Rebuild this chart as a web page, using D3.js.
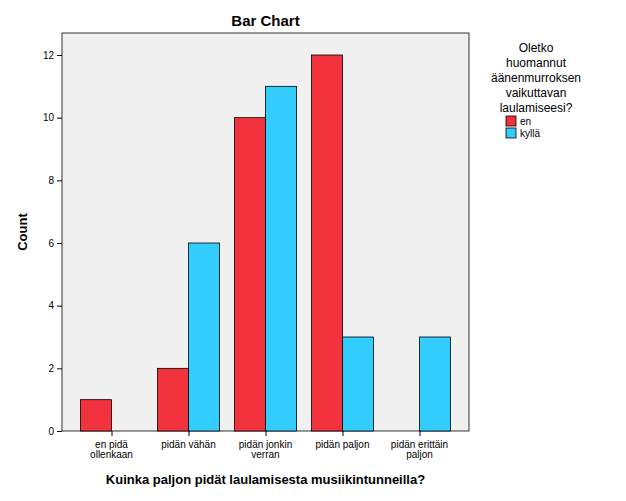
<!DOCTYPE html>
<html><head><meta charset="utf-8">
<script src="https://cdn.jsdelivr.net/npm/d3@7"></script>
<style>body{margin:0;background:#fff}text{font-family:Arial,"Liberation Sans",sans-serif}</style>
</head><body><svg id="c" width="626" height="501"></svg>
<script>
const categories = [["en pidä","ollenkaan"],["pidän vähän"],["pidän jonkin","verran"],["pidän paljon"],["pidän erittäin","paljon"]];
const enValues = [1, 2, 10, 12, 0];
const kyllaValues = [0, 6, 11, 3, 3];
const yTicks = [0, 2, 4, 6, 8, 10, 12];
const seriesNames = ["en", "kyllä"];
const colors = ["#f2323c", "#33ccff"];

const svg = d3.select("#c");
const L = 62, R = 469, T = 33, B = 431;
svg.append("rect").attr("x", L).attr("y", T).attr("width", R - L).attr("height", B - T)
  .attr("fill", "#f0f0f0").attr("stroke", "#000").attr("stroke-width", 0.8);

const x = d3.scalePoint().domain(d3.range(categories.length)).range([L, R]).padding(0.643);
const y = d3.scaleLinear().domain([0, 12]).range([B, 55]);
const bw = 31;

const yAxis = svg.append("g").attr("transform", `translate(${L},0)`)
  .call(d3.axisLeft(y).tickValues(yTicks).tickSize(5).tickSizeOuter(0));
yAxis.select(".domain").remove();
yAxis.selectAll("text").attr("font-size", 10).attr("fill", "#000");

const xAxis = svg.append("g").attr("transform", `translate(0,${B})`)
  .call(d3.axisBottom(x).tickSize(5).tickFormat(""));
xAxis.select(".domain").remove();
categories.forEach((lines, i) => {
  const t = svg.append("text").attr("x", x(i)).attr("y", B + 17).attr("text-anchor", "middle").attr("font-size", 10);
  lines.forEach((l, j) => t.append("tspan").attr("x", x(i)).attr("dy", j ? 10 : 0).text(l));
});

[enValues, kyllaValues].forEach((vals, s) => {
  svg.append("g").selectAll("rect").data(vals.map((v, i) => ({v, i})).filter(d => d.v > 0))
    .join("rect")
    .attr("x", d => x(d.i) - bw + s * bw).attr("width", bw)
    .attr("y", d => y(d.v)).attr("height", d => B - y(d.v))
    .attr("fill", colors[s]).attr("stroke", "#000").attr("stroke-width", 0.8);
});

svg.append("text").attr("x", (L + R) / 2).attr("y", 26).attr("text-anchor", "middle")
  .attr("font-size", 15).attr("font-weight", "bold").text("Bar Chart");
svg.append("text").attr("x", (L + R) / 2).attr("y", 484).attr("text-anchor", "middle")
  .attr("font-size", 13).attr("font-weight", "bold").text("Kuinka paljon pidät laulamisesta musiikintunneilla?");
svg.append("text").attr("transform", `translate(27,${(T + B) / 2}) rotate(-90)`).attr("text-anchor", "middle")
  .attr("font-size", 13).attr("font-weight", "bold").text("Count");

const legTitle = ["Oletko", "huomannut", "äänenmurroksen", "vaikuttavan", "laulamiseesi?"];
legTitle.forEach((l, j) => svg.append("text").attr("x", 536).attr("y", 52 + j * 15)
  .attr("text-anchor", "middle").attr("font-size", 12).text(l));
seriesNames.forEach((n, s) => {
  svg.append("rect").attr("x", 506).attr("y", 116 + s * 12).attr("width", 10).attr("height", 10)
    .attr("fill", colors[s]).attr("stroke", "#000").attr("stroke-width", 0.8);
  svg.append("text").attr("x", 520).attr("y", 125 + s * 12).attr("font-size", 10).text(n);
});
</script></body></html>
